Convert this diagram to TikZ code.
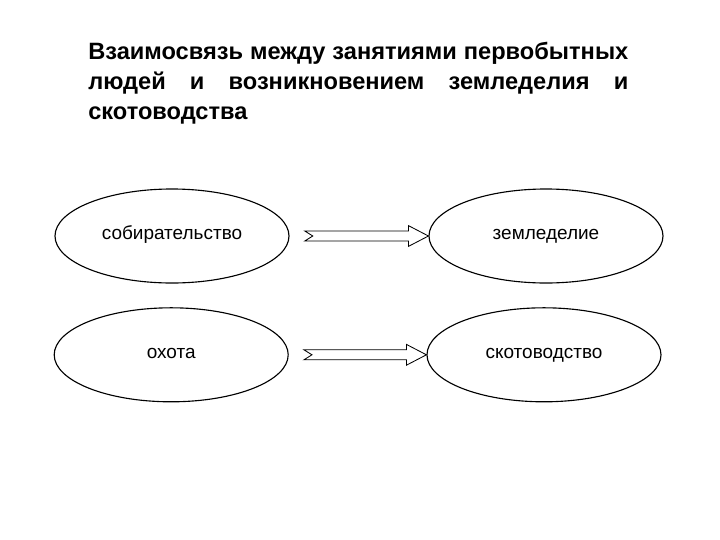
\documentclass[tikz,border=0pt]{standalone}
\usepackage{fontspec}
\setmainfont{Liberation Sans}
\usepackage{tikz}
\usetikzlibrary{calc,shapes.geometric}

\begin{document}
\begin{tikzpicture}[
  occupation/.style={draw, ellipse, line width=0.8pt, minimum width=5.85cm, minimum height=2.35cm,
    text height=1.3ex, text depth=0.3ex, font=\fontsize{13.5}{15}\selectfont},
  blockarrow/.style={line width=0.6pt, to path={
    ($(\tikztostart)+(0,0.125)$) -- ($(\tikztotarget)+(-0.5,0.125)$) -- ($(\tikztotarget)+(-0.5,0.26)$)
    -- (\tikztotarget) -- ($(\tikztotarget)+(-0.5,-0.26)$) -- ($(\tikztotarget)+(-0.5,-0.125)$)
    -- ($(\tikztostart)+(0,-0.125)$) -- ($(\tikztostart)+(0.2,0)$) -- cycle}}
]
\useasboundingbox (0,0) rectangle (18,-13.5);

\node[anchor=north west, inner sep=0pt, text width=13.5cm, align=justify,
      font=\bfseries\fontsize{16.8}{21.3}\selectfont] (title) at (2.2,-1.05)
  {Взаимосвязь между занятиями первобытных людей и возникновением земледелия и скотоводства};

\node[occupation] (gather) at (4.3,-5.9) {собирательство};
\node[occupation] (farm) at (13.65,-5.9) {земледелие};
\node[occupation] (hunt) at (4.28,-8.87) {охота};
\node[occupation] (herd) at (13.6,-8.87) {скотоводство};

\draw[blockarrow] ([xshift=0.38cm]gather.east) to (farm.west);
\draw[blockarrow] ([xshift=0.38cm]hunt.east) to (herd.west);
\end{tikzpicture}
\end{document}
